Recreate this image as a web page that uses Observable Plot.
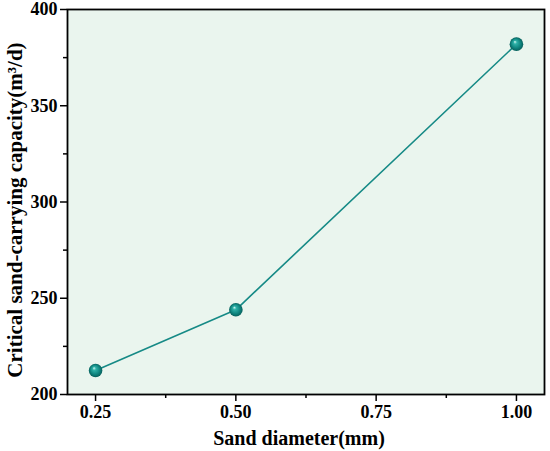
<!DOCTYPE html>
<html>
<head>
<meta charset="utf-8">
<script src="https://cdn.jsdelivr.net/npm/d3@7"></script>
<script src="https://cdn.jsdelivr.net/npm/@observablehq/plot@0.6"></script>
<style>
  html, body { margin: 0; padding: 0; background: white; }
</style>
</head>
<body>
<div id="chart"></div>
<script>
const sandDiameter = [0.25, 0.5, 1.0];
const capacity = [212.5, 244, 382];
const xTicks = [0.25, 0.5, 0.75, 1.0];
const xMinorTicks = [0.375, 0.625, 0.875];
const yTicks = [200, 250, 300, 350, 400];
const yMinorTicks = [225, 275, 325, 375];
const xTitle = "Sand diameter(mm)";
const yTitle = "Critical sand-carrying capacity(m³/d)";

const data = sandDiameter.map((d, i) => ({x: d, y: capacity[i]}));
const teal = "#168a86";

const chart = Plot.plot({
  width: 550,
  height: 451,
  marginLeft: 67,
  marginRight: 6,
  marginTop: 9,
  marginBottom: 57,
  x: {domain: [0.2, 1.05]},
  y: {domain: [200, 400]},
  style: {fontFamily: "'Liberation Serif', 'Times New Roman', serif", fontWeight: "bold", fontSize: "18px", color: "black", background: "white"},
  marks: [
    Plot.frame({fill: "#eaf5ee"}),
    Plot.axisX({ticks: xTicks, tickFormat: d => d.toFixed(2), tickSize: 7, tickPadding: 4, strokeWidth: 1.5, label: null, fontSize: 18}),
    Plot.axisX({ticks: xMinorTicks, tickFormat: () => "", tickSize: 4, strokeWidth: 1.5, label: null}),
    Plot.axisY({ticks: yTicks, tickSize: 7, tickPadding: 3, strokeWidth: 1.5, label: null, fontSize: 18}),
    Plot.axisY({ticks: yMinorTicks, tickFormat: () => "", tickSize: 4, strokeWidth: 1.5, label: null}),
    Plot.line(data, {x: "x", y: "y", stroke: teal, strokeWidth: 1.6}),
    Plot.dot(data, {x: "x", y: "y", r: 6.8, fill: "url(#sphere)", stroke: "none"}),
    Plot.frame({stroke: "black", strokeWidth: 1.8}),
    Plot.text([xTitle], {frameAnchor: "bottom", dx: -7, dy: 44, text: d => d, fontSize: 20, fontWeight: "bold", lineAnchor: "middle", textAnchor: "middle"}),
    Plot.text([yTitle], {frameAnchor: "left", dx: -52, dy: 8, rotate: -90, text: d => d, fontSize: 21, fontWeight: "bold", lineAnchor: "middle", textAnchor: "middle"})
  ]
});

const defs = d3.select(chart).insert("defs", ":first-child");
const g = defs.append("radialGradient").attr("id", "sphere")
  .attr("cx", "50%").attr("cy", "50%").attr("r", "50%")
  .attr("fx", "38%").attr("fy", "32%");
g.append("stop").attr("offset", "0%").attr("stop-color", "#d8fbf6");
g.append("stop").attr("offset", "25%").attr("stop-color", "#2fb1a8");
g.append("stop").attr("offset", "70%").attr("stop-color", "#0f847e");
g.append("stop").attr("offset", "100%").attr("stop-color", "#07605c");

document.getElementById("chart").appendChild(chart);
</script>
</body>
</html>
